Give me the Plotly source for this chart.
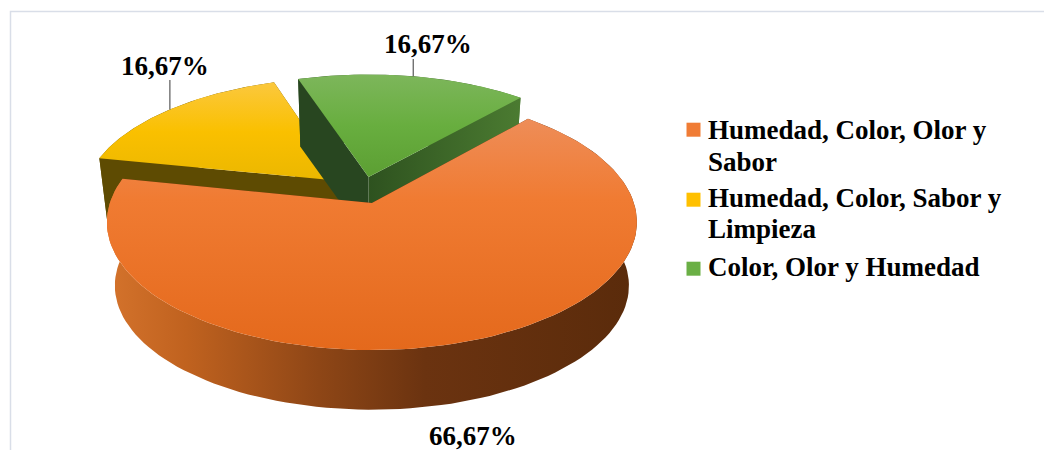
import numpy as np
import plotly.graph_objects as go

# ---- data -------------------------------------------------------------
categories = [
    "Humedad, Color, Olor y Sabor",
    "Humedad, Color, Sabor y Limpieza",
    "Color, Olor y Humedad",
]
legend_lines = [
    ["Humedad, Color, Olor y", "Sabor"],
    ["Humedad, Color, Sabor y", "Limpieza"],
    ["Color, Olor y Humedad"],
]
percentages = [66.67, 16.67, 16.67]

# ---- styling ----------------------------------------------------------
FONT = "Liberation Serif"
FS = 27
top_scales = [
    [[0, "#EE8D58"], [0.35, "#F07B32"], [1, "#E4691C"]],
    [[0, "#FBC83E"], [0.5, "#FAC000"], [1, "#EBB700"]],
    [[0, "#7DB65B"], [0.5, "#68AE3F"], [1, "#5C9F33"]],
]
side_scales = [
    [[0, "#D4732C"], [0.15, "#C0621F"], [0.4, "#8E4616"], [0.6, "#6B3310"], [1, "#5A2B0B"]],
    [[0, "#6A5400"], [1, "#5E4B00"]],
    [[0, "#2A4A1D"], [1, "#4A7A30"]],
]
face_start_colors = ["#5A2B0B", "#5E4B02", "#284620"]
face_end_scales = [
    [[0, "#5A2B0B"], [1, "#5A2B0B"]],
    [[0, "#5E4B02"], [1, "#5E4B02"]],
    [[0, "#2E521F"], [1, "#4B7B31"]],
]
legend_colors = ["#F07C35", "#FFC000", "#6AAF45"]

# ---- 3D pie projection (pixel frame) ----------------------------------
CX, CY = 372.0, 203.0       # projection origin
AX, BY = 262.0, 125.0       # horizontal / vertical radius scale
PERSP = 0.15                # perspective strength (near side larger)
DEPTH = 64.0                # pie thickness
SHRINK = 0.97               # bottom face slightly smaller
START_ANGLE = 41.5          # first slice angle, clockwise from 12 o'clock
EXPLODE = 0.112             # explosion distance (radius units)
CENTER = (-0.036, -0.106)   # pie centre in the projection frame


def proj_top(X, Y):
    D = 1 - PERSP * Y
    return CX + AX * X / D, CY + BY * Y / D


def proj_bot(X, Y):
    D = 1 - PERSP * Y
    return CX + AX * SHRINK * X / D, CY + DEPTH + BY * SHRINK * Y / D


fractions = np.array(percentages) / np.sum(percentages)
sweeps = 360 * fractions
starts = START_ANGLE + np.concatenate([[0], np.cumsum(sweeps)[:-1]])

slices = []
for i in range(len(percentages)):
    t0, t1 = starts[i], starts[i] + sweeps[i]
    mid = np.radians((t0 + t1) / 2)
    ox = CENTER[0] + EXPLODE * np.sin(mid)
    oy = CENTER[1] - EXPLODE * np.cos(mid)
    th = np.radians(np.linspace(t0, t1, 120))
    slices.append(dict(t0=np.radians(t0), t1=np.radians(t1), mid=mid,
                       ox=ox, oy=oy, ax=ox + np.sin(th), ay=oy - np.cos(th)))

fig = go.Figure()


def poly(xs, ys, grad):
    fig.add_trace(go.Scatter(
        x=np.append(xs, xs[0]), y=np.append(ys, ys[0]),
        mode="lines", fill="toself", line=dict(width=0),
        fillgradient=grad, hoverinfo="skip", showlegend=False))


def radial_face(s, t, grad):
    rx, ry = s["ox"] + np.sin(t), s["oy"] - np.cos(t)
    x1, y1 = proj_top(np.array([s["ox"], rx]), np.array([s["oy"], ry]))
    x2, y2 = proj_bot(np.array([rx, s["ox"]]), np.array([ry, s["oy"]]))
    poly(np.concatenate([x1, x2]), np.concatenate([y1, y2]), grad)


# back slices first, the large front slice last
for i in [1, 2, 0]:
    s = slices[i]
    tx, ty = proj_top(s["ax"], s["ay"])
    bx, by = proj_bot(s["ax"], s["ay"])
    xmin, xmax = min(tx.min(), bx.min()), max(tx.max(), bx.max())
    # outer curved side
    poly(np.concatenate([tx, bx[::-1]]), np.concatenate([ty, by[::-1]]),
         dict(type="horizontal", colorscale=side_scales[i], start=float(xmin), stop=float(xmax)))
    # radial side faces
    radial_face(s, s["t0"], dict(type="horizontal",
                                 colorscale=[[0, face_start_colors[i]], [1, face_start_colors[i]]]))
    cx0, _ = proj_top(np.array([s["ox"]]), np.array([s["oy"]]))
    rx1, _ = proj_top(np.array([s["ox"] + np.sin(s["t1"])]), np.array([s["oy"] - np.cos(s["t1"])]))
    radial_face(s, s["t1"], dict(type="horizontal", colorscale=face_end_scales[i],
                                 start=float(min(cx0[0], rx1[0])), stop=float(max(cx0[0], rx1[0]))))
    # top face
    vx, vy = proj_top(np.array([s["ox"]]), np.array([s["oy"]]))
    px_, py_ = np.concatenate([vx, tx]), np.concatenate([vy, ty])
    poly(px_, py_, dict(type="vertical", colorscale=top_scales[i],
                        start=float(py_.min()), stop=float(py_.max())))

# ---- data labels ------------------------------------------------------
label_pos = [(473, 445), (164.5, 75), (428, 53)]   # centre x, baseline y
leader_top = [None, 80, 59]
for i, v in enumerate(percentages):
    text = f"{v:.2f}".replace(".", ",") + "%"
    lx, lb = label_pos[i]
    fig.add_annotation(x=lx, y=lb - 0.32 * FS, text=f"<b>{text}</b>", showarrow=False,
                       xanchor="center", yanchor="middle",
                       font=dict(family=FONT, size=FS, color="#000000"))
    if leader_top[i] is not None:
        s = slices[i]
        mx, my = proj_top(np.array([s["ox"] + np.sin(s["mid"])]),
                          np.array([s["oy"] - np.cos(s["mid"])]))
        fig.add_trace(go.Scatter(x=[mx[0], mx[0]], y=[my[0], leader_top[i]], mode="lines",
                                 line=dict(color="#595959", width=1.2),
                                 hoverinfo="skip", showlegend=False))

# ---- legend -----------------------------------------------------------
legend_marker_y = [129.7, 199.7, 268.7]
legend_baselines = [[139, 171], [207, 238], [276]]
fig.add_trace(go.Scatter(
    x=[693.5] * len(categories), y=legend_marker_y, mode="markers",
    marker=dict(symbol="square", size=14, color=legend_colors, line=dict(width=0)),
    hoverinfo="skip", showlegend=False))
for lines, bases in zip(legend_lines, legend_baselines):
    for line, b in zip(lines, bases):
        fig.add_annotation(x=706, y=b - 0.32 * FS, text=f"<b>{line}</b>", showarrow=False,
                           xanchor="left", yanchor="middle",
                           font=dict(family=FONT, size=FS, color="#000000"))

# chart border
fig.add_shape(type="rect", x0=10.5, y0=11.5, x1=1060, y1=470,
              line=dict(color="#D9DEE8", width=1.5), layer="below")

fig.update_layout(
    width=1044, height=450,
    margin=dict(l=0, r=0, t=0, b=0),
    paper_bgcolor="#FFFFFF", plot_bgcolor="#FFFFFF",
    xaxis=dict(range=[0, 1044], visible=False, fixedrange=True),
    yaxis=dict(range=[450, 0], visible=False, fixedrange=True),
    showlegend=False,
)

fig.write_html("out.html")
